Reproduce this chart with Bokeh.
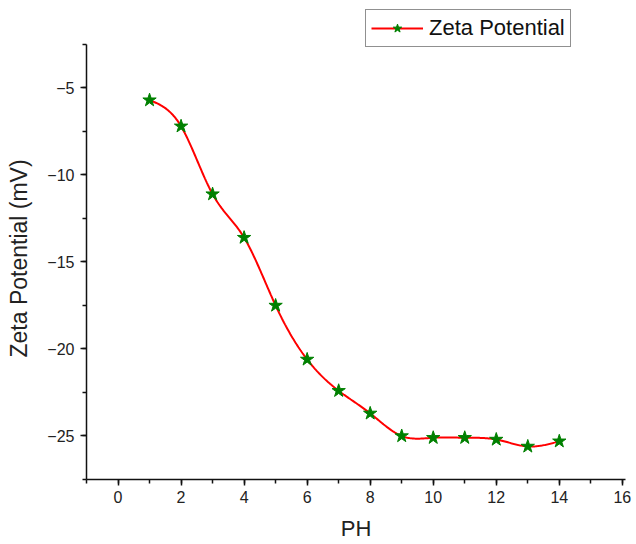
import numpy as np
from bokeh.plotting import figure
from bokeh.models import (SingleIntervalTicker, Range1d, Legend, LegendItem,
                          CustomJSTickFormatter, ColumnDataSource)
from bokeh.embed import file_html
from bokeh.resources import INLINE

# Data
ph = [1, 2, 3, 4, 5, 6, 7, 8, 9, 10, 11, 12, 13, 14]
zeta = [-5.7, -7.2, -11.1, -13.6, -17.5, -20.6, -22.4, -23.7, -25.0,
        -25.1, -25.1, -25.2, -25.6, -25.3]
series_name = "Zeta Potential"
x_label = "PH"
y_label = "Zeta Potential (mV)"


def natural_spline(x, y, n=400):
    x = np.asarray(x, float)
    y = np.asarray(y, float)
    m = len(x)
    h = np.diff(x)
    A = np.zeros((m, m))
    r = np.zeros(m)
    A[0, 0] = 1
    A[-1, -1] = 1
    for i in range(1, m - 1):
        A[i, i - 1] = h[i - 1]
        A[i, i] = 2 * (h[i - 1] + h[i])
        A[i, i + 1] = h[i]
        r[i] = 6 * ((y[i + 1] - y[i]) / h[i] - (y[i] - y[i - 1]) / h[i - 1])
    M = np.linalg.solve(A, r)
    xs = np.linspace(x[0], x[-1], n)
    idx = np.clip(np.searchsorted(x, xs) - 1, 0, m - 2)
    x0, x1 = x[idx], x[idx + 1]
    hh = x1 - x0
    t0 = x1 - xs
    t1 = xs - x0
    ys = (M[idx] * t0 ** 3 / (6 * hh) + M[idx + 1] * t1 ** 3 / (6 * hh)
          + (y[idx] / hh - M[idx] * hh / 6) * t0
          + (y[idx + 1] / hh - M[idx + 1] * hh / 6) * t1)
    return xs, ys


sx, sy = natural_spline(ph, zeta)

FONT = "Liberation Sans"

p = figure(width=636, height=544, output_backend="svg", toolbar_location=None,
           x_range=Range1d(-1, 16.1), y_range=Range1d(-27.5, -0.26),
           min_border_left=86, min_border_right=11, min_border_top=5,
           min_border_bottom=65)
p.outline_line_color = None
p.xgrid.visible = False
p.ygrid.visible = False
p.background_fill_color = "white"
p.border_fill_color = "white"

line_r = p.line(sx, sy, line_color="#ff0000", line_width=2)
pts = ColumnDataSource(dict(x=ph, y=zeta))
star_r = p.scatter("x", "y", source=pts, marker="star", size=14,
                   fill_color="#008000", line_color="#008000")

p.xaxis.ticker = SingleIntervalTicker(interval=2, num_minor_ticks=2)
p.yaxis.ticker = SingleIntervalTicker(interval=5, num_minor_ticks=2)
p.yaxis.bounds = (-27.5, -2.5)
fmt = "return (tick < 0 ? '\u2212' : '') + Math.abs(tick);"
p.yaxis.formatter = CustomJSTickFormatter(code=fmt)
p.xaxis.formatter = CustomJSTickFormatter(code=fmt)

for ax in (p.xaxis[0], p.yaxis[0]):
    ax.axis_line_color = "#111111"
    ax.axis_line_width = 1.5
    ax.major_tick_line_color = "#111111"
    ax.major_tick_line_width = 1.5
    ax.minor_tick_line_color = "#111111"
    ax.minor_tick_line_width = 1.5
    ax.major_tick_in = 0
    ax.major_tick_out = 6
    ax.minor_tick_in = 0
    ax.minor_tick_out = 4
    ax.major_label_text_font = FONT
    ax.major_label_text_font_size = "16px"
    ax.major_label_text_color = "#222222"
    ax.axis_label_text_font = FONT
    ax.axis_label_text_font_size = "22px"
    ax.axis_label_text_font_style = "normal"
    ax.axis_label_text_color = "#222222"

p.xaxis.axis_label = x_label
# non-breaking padding keeps the label centred on the visible axis span
p.yaxis.axis_label = y_label + "\u00a0" * 5
p.yaxis.axis_label_text_font_size = "23px"
p.xaxis.axis_label_standoff = 10
p.yaxis.axis_label_standoff = 12
p.xaxis.major_label_standoff = 5
p.yaxis.major_label_standoff = 6

legend = Legend(items=[LegendItem(label=series_name, renderers=[line_r, star_r])],
                location=(279, 432))
legend.label_text_font = FONT
legend.label_text_font_size = "22px"
legend.label_text_color = "#111111"
legend.border_line_color = "#222222"
legend.border_line_width = 1.5
legend.background_fill_alpha = 1
legend.padding = 5
legend.margin = 0
legend.glyph_width = 52
legend.glyph_height = 22
legend.label_standoff = 6
legend.label_height = 22
p.add_layout(legend, "center")

open("out.html", "w").write(file_html(p, INLINE))
